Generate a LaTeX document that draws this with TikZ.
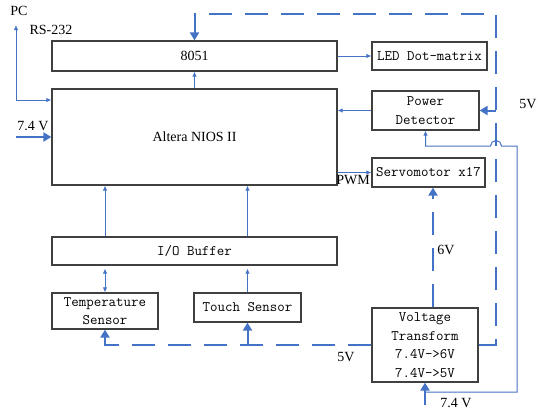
\documentclass[tikz,border=0pt]{standalone}
\usepackage{fontspec}
\setmainfont{Liberation Serif}
\usepackage{tikz}
\usetikzlibrary{arrows.meta,calc,positioning}
\definecolor{Link_Blue}{HTML}{4472C4}
\definecolor{Box_Gray}{HTML}{404040}

\begin{document}
\begin{tikzpicture}[x=1pt, y=-1pt, >={Latex[length=5pt,width=4.5pt]},
    blk/.style={draw=Box_Gray, line width=1.2pt, inner sep=0pt, align=center, font=\fontsize{14}{18.5}\selectfont},
    monoblk/.style={blk, font=\fontsize{14.5}{18.5}\selectfont\ttfamily},
    sig/.style={->, Link_Blue, line width=1pt},
    pwr/.style={Link_Blue, line width=2pt, dash pattern=on 23pt off 13pt, -{Triangle[length=8pt,width=9pt]}},
    pwrsolid/.style={pwr, solid},
    lbl/.style={font=\fontsize{14}{16}\selectfont, inner sep=1pt}]
    \useasboundingbox (0,0) rectangle (538,413);

    % Blocks
    \node[blk, minimum width=285pt, minimum height=30pt] (mcu) at (194.5,56) {8051};
    \node[monoblk, minimum width=115pt, minimum height=28pt] (led) at (429.5,56) {LED Dot-matrix};
    \node[blk, minimum width=285pt, minimum height=96pt] (nios) at (194.5,137) {Altera NIOS II};
    \node[monoblk, minimum width=107pt, minimum height=39pt] (pd) at (425.5,110.5) {Power\\Detector};
    \node[monoblk, minimum width=113pt, minimum height=29pt] (servo) at (428.5,172.5) {Servomotor x17};
    \node[monoblk, minimum width=285pt, minimum height=28pt] (iobuf) at (194.5,251) {I/O Buffer};
    \node[monoblk, minimum width=106pt, minimum height=36pt] (temp) at (105,311) {Temperature\\Sensor};
    \node[monoblk, minimum width=107pt, minimum height=29pt] (touch) at (247.5,307.5) {Touch Sensor};
    \node[monoblk, minimum width=106pt, minimum height=74pt] (vt) at (425,345) {Voltage\\Transform\\7.4V->6V\\7.4V->5V};

    % Labels
    \node[lbl] (pcl) at (19,11) {PC};
    \node[lbl] (rsl) at (51,30) {RS-232};
    \node[lbl] (vinl) at (33,126) {7.4 V};
    \node[lbl] (v5rl) at (528,104) {5V};
    \node[lbl] (pwml) at (353,180) {PWM};
    \node[lbl] (v6l) at (446,250) {6V};
    \node[lbl] (v5bl) at (346,357) {5V};
    \node[lbl] (v74l) at (456,403) {7.4 V};

    % Junction points
    \coordinate (pcbend) at (16,100);
    \coordinate (pcend) at (16,25);
    \coordinate (vinstart) at (16,137);
    \coordinate (railtop) at (496,14);
    \coordinate (v74in) at (425,405);
    \coordinate (sns0) at (425,392);
    \coordinate (sns1) at (517,392);
    \coordinate (sns2) at (517,146);
    \coordinate (hopin) at ($(railtop |- sns2)+(5.5,0)$);

    % Signal links
    \draw[sig] (pcbend) -- (pcend);
    \draw[sig] (pcbend) -- (pcbend -| nios.west);
    \draw[sig] (nios.north) -- (mcu.south);
    \draw[sig] (mcu.east) -- (led.west);
    \draw[sig] (pd.west) -- (pd.west -| nios.east);
    \draw[sig] (servo.west -| nios.east) -- (servo.west);
    \draw[sig] (iobuf.north -| temp.north) -- (nios.south -| temp.north);
    \draw[sig] (iobuf.north -| touch.north) -- (nios.south -| touch.north);
    \draw[sig, <->, shorten <=3pt] (iobuf.south -| temp.north) -- (temp.north);
    \draw[sig, shorten >=3pt] (touch.north) -- (iobuf.south -| touch.north);

    % 7.4 V supply
    \draw[pwrsolid] (vinstart) -- (vinstart -| nios.west);
    \draw[pwrsolid] (v74in) -- (vt.south);
    \draw[sig] (sns0) -- (sns1) -- (sns2) -- (hopin)
        arc[start angle=0, end angle=-180, radius=5.5] -- (pd.south |- sns2) -- (pd.south);

    % 5V and 6V rails
    \draw[pwr] (vt.east) -| (railtop) -| (mcu.north);
    \draw[pwr] (pd.east -| railtop) -- (pd.east);
    \draw[pwr] ([xshift=8pt]vt.north) -- ([xshift=8pt]vt.north |- servo.south);
    \draw[pwr] (vt.west) -| (temp.south);
    \draw[pwr] (touch.south |- vt.west) -- (touch.south);
\end{tikzpicture}
\end{document}
